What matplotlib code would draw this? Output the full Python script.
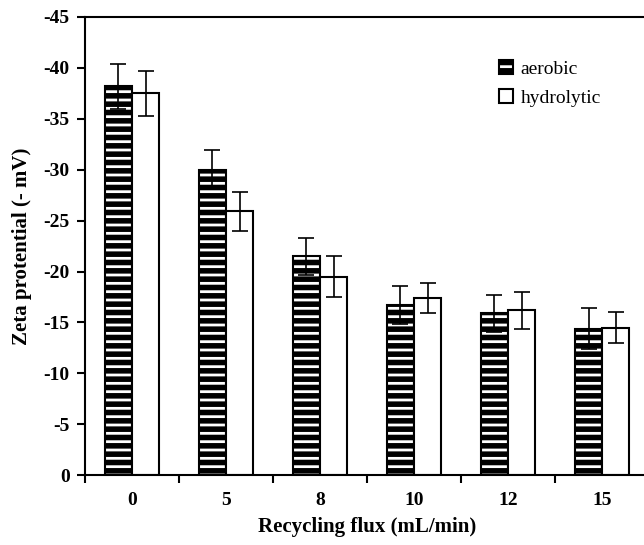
import numpy as np
import matplotlib as mpl
import matplotlib.pyplot as plt

mpl.rcParams['font.family'] = 'Liberation Serif'
mpl.rcParams['axes.unicode_minus'] = False
mpl.rcParams['hatch.linewidth'] = 4.0

flux = ['0', '5', '8', '10', '12', '15']
aerobic = [38.2, 30.0, 21.5, 16.7, 15.9, 14.4]
aerobic_err = [2.2, 1.9, 1.8, 1.9, 1.8, 2.0]
hydrolytic = [37.5, 25.9, 19.5, 17.4, 16.2, 14.5]
hydrolytic_err = [2.2, 1.9, 2.0, 1.5, 1.8, 1.5]

fig = plt.figure(figsize=(6.44, 5.45), dpi=100)
ax = fig.add_axes([0.132, 0.128, 0.876, 0.841])

x = np.arange(len(flux))
w = 0.29
ax.bar(x - w/2, -np.array(aerobic), w, facecolor='white', edgecolor='black',
       hatch='--', linewidth=1.5, label='aerobic')
ax.bar(x + w/2, -np.array(hydrolytic), w, facecolor='white', edgecolor='black',
       linewidth=1.5, label='hydrolytic')
ax.errorbar(x - w/2, -np.array(aerobic), yerr=aerobic_err, fmt='none',
            ecolor='black', elinewidth=1.2, capsize=6, capthick=1.2)
ax.errorbar(x + w/2, -np.array(hydrolytic), yerr=hydrolytic_err, fmt='none',
            ecolor='black', elinewidth=1.2, capsize=6, capthick=1.2)

ax.set_xlim(-0.5, len(flux) - 0.5)
ax.set_ylim(0, -45)
ax.set_yticks(np.arange(0, -46, -5))
ax.set_xticks(x)
ax.set_xticklabels(flux)
ax.set_xticks(np.arange(-0.5, len(flux)), minor=True)
ax.tick_params(axis='x', which='major', length=0, pad=12)
ax.tick_params(axis='x', which='minor', length=6, width=1.5, direction='out')
ax.tick_params(axis='y', length=6, width=1.5, direction='out', pad=5)
for lab in ax.get_xticklabels() + ax.get_yticklabels():
    lab.set_fontsize(14)
    lab.set_fontweight('bold')
for s in ax.spines.values():
    s.set_linewidth(1.5)

ax.set_xlabel('Recycling flux (mL/min)', fontsize=15, fontweight='bold', labelpad=6)
ax.set_ylabel('Zeta protential (- mV)', fontsize=15, fontweight='bold', labelpad=8)

ax.legend(loc='upper left', bbox_to_anchor=(0.748, 0.922), bbox_transform=fig.transFigure,
          frameon=False, fontsize=14, handlelength=0.7, handleheight=0.7,
          handletextpad=0.4, labelspacing=0.6)

plt.savefig('out.png')
